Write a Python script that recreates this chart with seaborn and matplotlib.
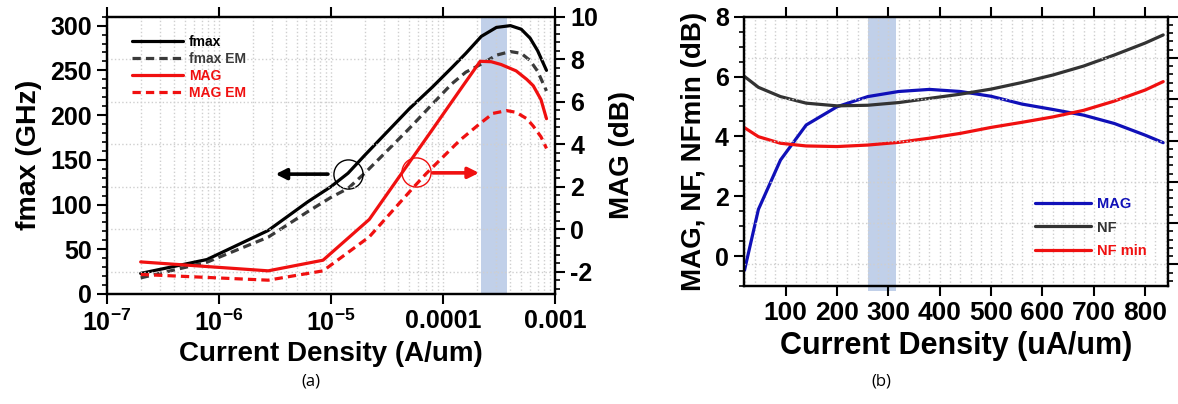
import numpy as np
import pandas as pd
import matplotlib
matplotlib.use("Agg")
import matplotlib.pyplot as plt
from matplotlib.ticker import MultipleLocator, FixedLocator, LogLocator, NullFormatter
import seaborn as sns

# ---------------- data: panel (a) ----------------
fmax_x = [2e-7, 7.8e-7, 2.75e-6, 6.2e-6, 1e-5, 1.42e-5, 2e-5, 3e-5, 5e-5, 8e-5,
          1.2e-4, 1.6e-4, 2.2e-4, 3e-4, 4e-4, 5e-4, 6e-4, 7e-4, 8.4e-4]
fmax_y = [23, 38.5, 71, 103, 120, 135, 155, 178, 207, 231,
          253, 269, 288, 298, 300, 296, 286, 272, 250]
fmaxem_x = fmax_x
fmaxem_y = [18, 35.5, 63.5, 92, 108, 118, 135, 157, 185, 212,
            235, 248, 257, 267, 271, 269, 261, 249, 227]
mag_x = [2e-7, 2.75e-6, 8.5e-6, 2.2e-5, 4e-5, 8e-5, 1.5e-4, 2.15e-4, 2.7e-4,
         3.3e-4, 4.5e-4, 5.6e-4, 6.4e-4, 7.5e-4, 8.4e-4]
mag_y = [-1.54, -1.96, -1.46, 0.46, 2.41, 4.67, 6.73, 7.9, 7.88,
         7.75, 7.45, 7.05, 6.75, 6.1, 5.2]
magem_x = [2e-7, 2.75e-6, 8.5e-6, 2.2e-5, 5.5e-5, 7.1e-5, 1.42e-4, 2.14e-4, 2.8e-4,
           3.7e-4, 4.5e-4, 5.6e-4, 6.4e-4, 7.5e-4, 8.4e-4]
magem_y = [-2.13, -2.4, -1.96, -0.36, 1.99, 2.62, 4.19, 4.97, 5.45,
           5.58, 5.5, 5.2, 4.85, 4.35, 3.8]
band_a = (2.2e-4, 3.7e-4)
xticks_a = [1e-7, 1e-6, 1e-5, 1e-4, 1e-3]
xticklabels_a = [r"$\mathbf{10^{-7}}$", r"$\mathbf{10^{-6}}$", r"$\mathbf{10^{-5}}$", "0.0001", "0.001"]
# annotation markers (circle centre, arrow tail, arrow head)
ann_black = dict(circle=(1.42e-5, 134), tail=(9.4e-6, 134), head=(3.2e-6, 134))
ann_red = dict(circle=(5.8e-5, 2.7), tail=(8.1e-5, 2.65), head=(2.1e-4, 2.65))

# ---------------- data: panel (b) ----------------
jb = [20, 47, 90, 140, 200, 260, 320, 380, 440, 500, 560, 620, 680, 740, 800, 835]
mag_b = [-0.47, 1.56, 3.21, 4.38, 4.99, 5.33, 5.5, 5.57, 5.5, 5.34, 5.08, 4.9, 4.71, 4.43, 4.04, 3.79]
nf_b = [6.0, 5.64, 5.33, 5.11, 5.02, 5.04, 5.13, 5.27, 5.41, 5.58, 5.8, 6.05, 6.35, 6.72, 7.12, 7.39]
nfmin_b = [4.29, 3.99, 3.77, 3.68, 3.66, 3.71, 3.8, 3.94, 4.1, 4.3, 4.47, 4.65, 4.87, 5.18, 5.55, 5.83]
band_b = (260, 315)
xticks_b = [100, 200, 300, 400, 500, 600, 700, 800]

# ---------------- style ----------------
sns.set_style("white")
plt.rcParams["font.family"] = ["Liberation Sans", "DejaVu Sans"]
plt.rcParams["font.weight"] = "bold"
plt.rcParams["mathtext.fontset"] = "custom"
plt.rcParams["mathtext.rm"] = "Liberation Sans:bold"
plt.rcParams["mathtext.bf"] = "Liberation Sans:bold"
plt.rcParams["mathtext.it"] = "Liberation Sans:bold"
plt.rcParams["axes.unicode_minus"] = False
for k in ("text.color", "axes.labelcolor", "xtick.color", "ytick.color", "axes.edgecolor"):
    plt.rcParams[k] = "black"

BLACK = "#000000"
GRAY = "#3a3a3a"
RED = "#f01010"
BLUE = "#1010b8"
NFC = "#333333"
BANDC = "#b7c8e6"
GRIDC = "#cfcfcf"
LW = 2.3
DASH = (0, (2.6, 1.6))
TICK_FS = 18

fig = plt.figure(figsize=(11.78, 4.04), dpi=100)


def style_axis(a):
    for s in a.spines.values():
        s.set_linewidth(1.6)
        s.set_color("black")
    a.tick_params(which="major", direction="out", length=7, width=1.5, labelsize=TICK_FS, pad=4,
                  color="black", labelcolor="black")
    a.tick_params(which="minor", direction="out", length=3.5, width=1.2, color="black")


# ================= panel (a) =================
ax = fig.add_axes([0.0908, 0.2723, 0.3803, 0.6864])
ax2 = ax.twinx()
ax.set_xscale("log")
ax.set_xlim(1e-7, 1e-3)
ax.set_ylim(0, 310)
ax2.set_ylim(-3.05, 10)

ax.axvspan(*band_a, color=BANDC, alpha=0.85, lw=0, zorder=0)

sns.lineplot(x=fmax_x, y=fmax_y, ax=ax, color=BLACK, lw=LW, sort=False, estimator=None, label="fmax", legend=False)
sns.lineplot(x=fmaxem_x, y=fmaxem_y, ax=ax, color=GRAY, lw=LW, ls=DASH, sort=False, estimator=None, label="fmax EM", legend=False)
sns.lineplot(x=mag_x, y=mag_y, ax=ax2, color=RED, lw=LW, sort=False, estimator=None, label="MAG", legend=False)
sns.lineplot(x=magem_x, y=magem_y, ax=ax2, color=RED, lw=LW, ls=DASH, sort=False, estimator=None, label="MAG EM", legend=False)

# annotations
ax.plot(*ann_black["circle"], marker="o", ms=21, mfc="none", mec=BLACK, mew=1.0)
ax.annotate("", xy=ann_black["head"], xytext=ann_black["tail"],
            arrowprops=dict(arrowstyle="-|>", color=BLACK, lw=2.6, mutation_scale=16, shrinkA=0, shrinkB=0))
ax2.plot(*ann_red["circle"], marker="o", ms=21, mfc="none", mec=RED, mew=1.0)
ax2.annotate("", xy=ann_red["head"], xytext=ann_red["tail"],
             arrowprops=dict(arrowstyle="-|>", color=RED, lw=2.6, mutation_scale=16, shrinkA=0, shrinkB=0))

# ticks
ax.set_xticks(xticks_a)
ax.set_xticklabels(xticklabels_a)
ax.xaxis.set_minor_locator(LogLocator(base=10, subs=np.arange(2, 10), numticks=20))
ax.xaxis.set_minor_formatter(NullFormatter())
ax.yaxis.set_major_locator(MultipleLocator(50))
ax.yaxis.set_minor_locator(MultipleLocator(10))
ax2.yaxis.set_major_locator(FixedLocator([-2, 0, 2, 4, 6, 8, 10]))
ax2.yaxis.set_minor_locator(MultipleLocator(0.4))
for a in (ax, ax2):
    style_axis(a)
ax.tick_params(axis="x", which="major", top=True, bottom=True)
ax.tick_params(axis="x", which="minor", length=0)
ax.tick_params(axis="y", which="both", left=True, right=False)
ax2.tick_params(axis="y", which="both", right=True, left=False)

ax.grid(False)
ax2.grid(False)
ax.xaxis.grid(True, which="both", color=GRIDC, ls=":", lw=1.0)
ax2.yaxis.grid(True, which="major", color=GRIDC, ls=":", lw=1.0)

ax.set_xlabel("Current Density (A/um)", fontsize=20, fontweight="bold", labelpad=4, color="black")
ax.set_ylabel("fmax (GHz)", fontsize=20.5, fontweight="bold", labelpad=6, color="black")
ax2.set_ylabel("MAG (dB)", fontsize=20, fontweight="bold", labelpad=8, color="black")

ha, la = ax.get_legend_handles_labels()
hb, lb = ax2.get_legend_handles_labels()
names_a = ("fmax", "fmax EM", "MAG", "MAG EM")
hs = [h for h, l in zip(ha + hb, la + lb) if l in names_a]
ls_ = [l for l in la + lb if l in names_a]
leg = ax2.legend(hs, ls_, loc="upper left", bbox_to_anchor=(0.055, 0.935), frameon=False,
                 prop=dict(size=10, weight="bold"), handlelength=3.7, handletextpad=0.45,
                 labelspacing=0.22, borderpad=0, borderaxespad=0,
                 labelcolor=[BLACK, GRAY, RED, RED])

# ================= panel (b) =================
bx = fig.add_axes([0.6316, 0.2921, 0.3602, 0.6666])
bx2 = bx.twinx()
bx.set_xlim(19, 845)
bx.set_ylim(-1, 8)
bx2.set_ylim(-3.05, 10)

bx.axvspan(*band_b, ymin=-0.02, ymax=1, color=BANDC, alpha=0.85, lw=0, zorder=0, clip_on=False)

df_b = pd.DataFrame({"J": jb, "MAG": mag_b, "NF": nf_b, "NF min": nfmin_b})
sns.lineplot(data=df_b, x="J", y="MAG", ax=bx, color=BLUE, lw=LW, sort=False, estimator=None, label="MAG", legend=False)
sns.lineplot(data=df_b, x="J", y="NF", ax=bx, color=NFC, lw=LW, sort=False, estimator=None, label="NF", legend=False)
sns.lineplot(data=df_b, x="J", y="NF min", ax=bx, color=RED, lw=LW, sort=False, estimator=None, label="NF min", legend=False)

bx.set_xticks(xticks_b)
bx.xaxis.set_minor_locator(MultipleLocator(20))
bx.yaxis.set_major_locator(MultipleLocator(2))
bx.yaxis.set_minor_locator(MultipleLocator(0.5))
bx2.yaxis.set_major_locator(FixedLocator([-2, 0, 2, 4, 6, 8, 10]))
bx2.yaxis.set_minor_locator(MultipleLocator(0.4))
for a in (bx, bx2):
    style_axis(a)
bx.tick_params(axis="x", which="major", top=True, bottom=True, labelsize=19)
bx.tick_params(axis="x", which="minor", length=0)
bx.tick_params(axis="y", which="both", left=True, right=False)
bx2.tick_params(axis="y", which="both", right=True, left=False, labelright=False)
bx.grid(False)
bx2.grid(False)
bx.xaxis.grid(True, which="both", color=GRIDC, ls=":", lw=1.0)
bx2.yaxis.grid(True, which="major", color=GRIDC, ls=":", lw=1.0)

bx.set_xlabel("Current Density (uA/um)", fontsize=22, fontweight="bold", labelpad=4, color="black")
bx.set_ylabel("MAG, NF, NFmin (dB)", fontsize=20, fontweight="bold", labelpad=6, color="black")

hb_, lb_ = bx.get_legend_handles_labels()
bx2.legend(hb_, lb_, loc="upper left", bbox_to_anchor=(0.686, 0.33), frameon=False,
           prop=dict(size=10.5, weight="bold"), handlelength=3.8, handletextpad=0.45,
           labelspacing=0.65, borderpad=0, borderaxespad=0,
           labelcolor=[BLUE, NFC, RED])

# captions
fig.text(311 / 1178, 1 - 381 / 404, "(a)", ha="center", va="center", fontsize=12,
         fontweight="normal", family=["Open Sans", "DejaVu Sans"], color="black")
fig.text(881 / 1178, 1 - 381 / 404, "(b)", ha="center", va="center", fontsize=12,
         fontweight="normal", family=["Open Sans", "DejaVu Sans"], color="black")

fig.savefig("out.png", dpi=100)
